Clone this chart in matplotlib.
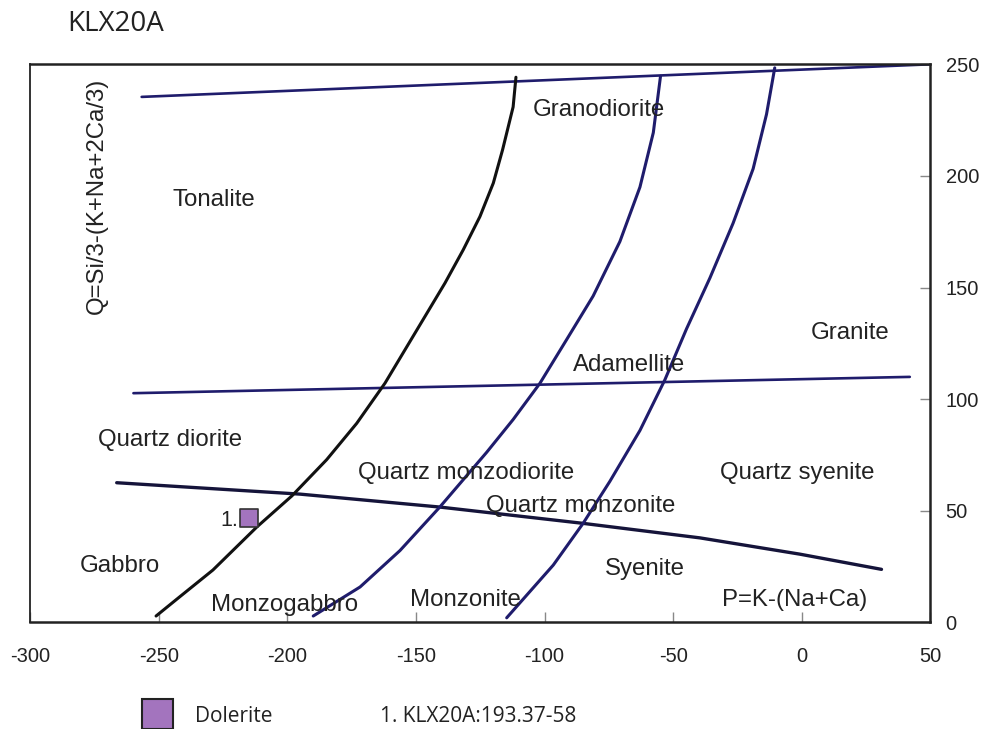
import matplotlib
matplotlib.use("Agg")
import matplotlib.pyplot as plt

plt.rcParams["axes.unicode_minus"] = False

# boundary lines of the classification diagram (P, Q)
top_x = [-256.6, 50.0]
top_y = [235.4, 250.0]

adamellite_x = [-259.8, 42.0]
adamellite_y = [102.7, 110.0]

p_line_x = [-266.3, -195.1, -140.7, -85.0, -39.6, -0.7, 31.0]
p_line_y = [62.6, 57.5, 51.7, 44.4, 37.9, 30.6, 23.8]

black_x = [-251.0, -241.7, -228.9, -211.8, -198.2, -184.7, -173.0, -162.0,
           -146.5, -138.7, -131.6, -125.1, -119.9, -116.3, -112.2, -111.1]
black_y = [2.9, 11.6, 23.5, 42.8, 56.7, 72.9, 89.2, 107.2,
           137.0, 152.0, 166.9, 181.8, 196.8, 211.7, 230.9, 244.2]

blue2_x = [-189.9, -171.7, -156.2, -140.7, -122.5, -112.2, -101.8, -91.4, -81.1,
           -70.7, -62.9, -57.7, -54.9]
blue2_y = [2.9, 15.9, 32.2, 51.7, 76.2, 90.9, 107.1, 126.7, 146.2,
           170.6, 195.0, 219.4, 244.7]

blue3_x = [-114.7, -96.6, -85.0, -74.6, -62.9, -53.2, -44.8, -35.7, -26.7,
           -18.9, -13.7, -10.5]
blue3_y = [2.1, 25.7, 44.4, 63.2, 86.0, 108.7, 131.5, 154.3, 178.8,
           203.2, 227.6, 248.4]

# sample
sample_x = [-214.7]
sample_y = [46.8]
sample_labels = ["1."]

# region names and where they sit
region_names = ["Tonalite", "Granodiorite", "Granite", "Adamellite", "Quartz diorite",
                "Quartz monzodiorite", "Quartz syenite", "Quartz monzonite", "Gabbro",
                "Monzogabbro", "Monzonite", "Syenite", "P=K-(Na+Ca)"]
region_x = [-228.5, -78.9, 18.7, -67.2, -245.6, -130.6, -1.9, -85.9, -265.0,
            -200.9, -130.9, -61.0, -2.7]
region_y = [189.3, 229.6, 129.7, 115.4, 81.9, 66.9, 66.9, 52.2, 25.3,
            7.8, 10.1, 24.0, 10.1]

xticks = [-300, -250, -200, -150, -100, -50, 0, 50]
yticks = [0, 50, 100, 150, 200, 250]

navy = "#1f1c6c"
dark = "#15143a"

fig = plt.figure(figsize=(9.84, 7.29), dpi=100)
ax = fig.add_axes([0.0305, 0.1461, 0.915, 0.7657])

ax.plot(top_x, top_y, color=navy, lw=1.9, solid_capstyle="round")
ax.plot(adamellite_x, adamellite_y, color=navy, lw=1.9, solid_capstyle="round")
ax.plot(p_line_x, p_line_y, color=dark, lw=2.4, solid_capstyle="round",
        solid_joinstyle="round")
ax.plot(black_x, black_y, color="#111111", lw=2.2, solid_capstyle="round",
        solid_joinstyle="round")
ax.plot(blue2_x, blue2_y, color=navy, lw=2.2, solid_capstyle="round",
        solid_joinstyle="round")
ax.plot(blue3_x, blue3_y, color=navy, lw=2.2, solid_capstyle="round",
        solid_joinstyle="round")

ax.scatter(sample_x, sample_y, marker="s", s=150, color="#a374be",
           edgecolors="#333333", linewidths=1.2, zorder=5)
for sx, sy, lab in zip(sample_x, sample_y, sample_labels):
    ax.text(sx - 4.5, sy - 1, lab, ha="right", va="center", fontsize=15.5,
            family="Liberation Sans", color="#222222")

for name, rx, ry in zip(region_names, region_x, region_y):
    ax.text(rx, ry, name, ha="center", va="center", fontsize=17.3,
            family="Liberation Sans", color="#222222")

ax.text(-274, 191, "Q=Si/3-(K+Na+2Ca/3)", rotation=90, ha="center", va="center",
        fontsize=17.3, family="Liberation Sans", color="#222222")

ax.set_xlim(-300, 50)
ax.set_ylim(0, 250)
ax.set_xticks(xticks)
ax.set_yticks(yticks)
ax.yaxis.tick_right()
ax.tick_params(axis="x", direction="in", length=7, width=1, color="#888888",
               pad=18, labelsize=14.5)
ax.tick_params(axis="y", direction="in", length=7, width=1, color="#888888",
               pad=11, labelsize=14.5)
for lab in ax.get_xticklabels() + ax.get_yticklabels():
    lab.set_family("Liberation Sans")
    lab.set_color("#222222")
for side in ["top", "bottom", "right"]:
    ax.spines[side].set_linewidth(1.8)
    ax.spines[side].set_color("#222222")
ax.spines["left"].set_linewidth(1.3)
ax.spines["left"].set_color("#222222")

fig.text(67 / 984, 1 - 24 / 729, "KLX20A", ha="left", va="center",
         fontsize=20, family="Open Sans", color="#222222")

# legend row under the plot
fig.patches.append(plt.Rectangle((142 / 984, 0), 31 / 984, 30 / 729,
                                 transform=fig.transFigure, facecolor="#a374be",
                                 edgecolor="#222222", linewidth=1.5))
fig.text(195 / 984, 1 - 717 / 729, "Dolerite", ha="left", va="center",
         fontsize=15, family="Open Sans", color="#222222")
fig.text(380 / 984, 1 - 717 / 729, "1. KLX20A:193.37-58", ha="left", va="center",
         fontsize=15, family="Open Sans", color="#222222")

fig.savefig("out.png", dpi=100)
